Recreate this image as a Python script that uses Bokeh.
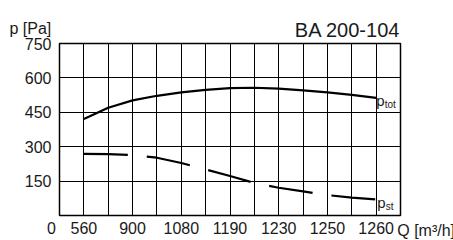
from bokeh.plotting import figure
from bokeh.models import Range1d, FixedTicker, Label
from bokeh.embed import file_html
from bokeh.resources import INLINE

# ---- data ----
q_labels = ["560", "900", "1080", "1190", "1230", "1250", "1260"]
q_label_pos = [1, 3, 5, 7, 9, 11, 13]
grid_pos = list(range(1, 14))
p_ticks = [150, 300, 450, 600, 750]
curve_x = list(range(1, 14))
p_tot = [421, 470, 502, 522, 537, 548, 555, 557, 553, 546, 537, 526, 513]
p_st = [269, 268, 264, 252, 229, 201, 172, 142, 121, 105, 89, 78, 70]

FONT = "Liberation Sans"
TXT = "#1a1a1a"

p = figure(width=453, height=240, x_range=Range1d(0, 14), y_range=Range1d(0, 750),
           output_backend="svg", toolbar_location=None,
           min_border_left=58, min_border_right=53, min_border_top=43, min_border_bottom=25)
p.outline_line_color = "black"
p.outline_line_width = 1.5
p.background_fill_color = "white"
p.border_fill_color = "white"

# axes
p.xaxis.ticker = FixedTicker(ticks=q_label_pos)
p.xaxis.major_label_overrides = {pos: lab for pos, lab in zip(q_label_pos, q_labels)}
p.yaxis.ticker = FixedTicker(ticks=p_ticks)
for ax in (p.xaxis[0], p.yaxis[0]):
    ax.axis_line_color = None
    ax.major_tick_line_color = None
    ax.minor_tick_line_color = None
    ax.major_tick_out = 0
    ax.major_tick_in = 0
    ax.major_label_text_font = FONT
    ax.major_label_text_font_size = "16px"
    ax.major_label_text_color = TXT
p.xaxis.major_label_standoff = 6
p.yaxis.major_label_standoff = 8

# grids
p.xgrid.ticker = FixedTicker(ticks=grid_pos)
p.ygrid.ticker = FixedTicker(ticks=p_ticks)
for g in (p.xgrid[0], p.ygrid[0]):
    g.grid_line_color = "black"
    g.grid_line_width = 1
    g.grid_line_alpha = 1.0

# curves
p.line(curve_x, p_tot, line_color="black", line_width=2.2)
p.line(curve_x, p_st, line_color="black", line_width=2.2, line_dash="44 19")

# texts (labels outside the frame live in side panels so they are not clipped)
def lab(place=None, **kw):
    base = dict(text_font=FONT, text_color=TXT)
    base.update(kw)
    if place is None:
        p.add_layout(Label(**base))
    else:
        p.add_layout(Label(**base), place)

x0, x1 = 0, 14
y0, y1 = 0, 750
lab("above", x=x0, y=y1, x_offset=-50, y_offset=15, text="p [Pa]", text_font_size="16px",
    text_baseline="alphabetic")
lab("above", x=x1, y=y1, x_offset=0, y_offset=14, text="BA 200-104", text_font_size="20px",
    text_align="right", text_baseline="alphabetic")
lab("left", x=x0, y=y0, x_offset=-8, y_offset=-6, text="0", text_font_size="16px",
    text_align="center", text_baseline="top")
lab("left", x=q_label_pos[-1], y=y0, x_offset=21, y_offset=-6, text="Q",
    text_font_size="16px", text_align="left", text_baseline="top")
lab("right", x=q_label_pos[-1], y=y0, x_offset=38, y_offset=-6, text="[m³/h]",
    text_font_size="16px", text_align="left", text_baseline="top")
lab(x=curve_x[-1], y=p_tot[-1], x_offset=0, y_offset=-3, text="p", text_font_size="15px",
    text_baseline="alphabetic")
lab(x=curve_x[-1], y=p_tot[-1], x_offset=8.5, y_offset=-7, text="tot", text_font_size="10px",
    text_baseline="alphabetic")
lab(x=curve_x[-1], y=p_st[-1], x_offset=1, y_offset=-3, text="p", text_font_size="15px",
    text_baseline="alphabetic")
lab(x=curve_x[-1], y=p_st[-1], x_offset=9.5, y_offset=-7, text="st", text_font_size="10px",
    text_baseline="alphabetic")

open("out.html", "w").write(file_html(p, INLINE))
